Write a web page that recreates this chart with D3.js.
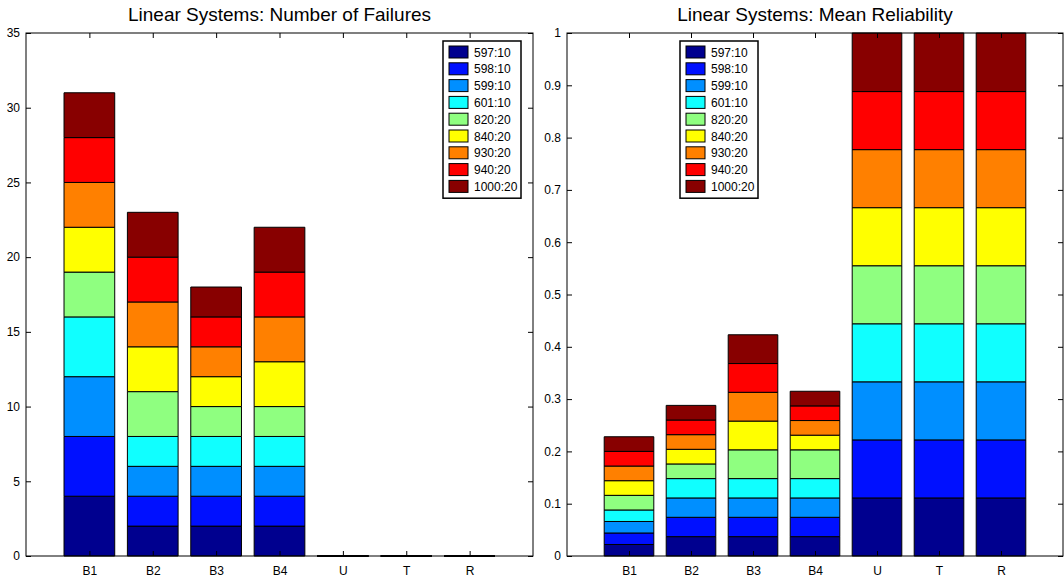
<!DOCTYPE html>
<html>
<head>
<meta charset="utf-8">
<script src="https://cdn.jsdelivr.net/npm/d3@7"></script>
<style>
  body { margin: 0; background: #fff; }
  svg { display: block; font-family: "Liberation Sans", Arial, sans-serif; }
</style>
</head>
<body>
<svg width="1064" height="579"></svg>
<script>
// categories along x
var categories = ["B1", "B2", "B3", "B4", "U", "T", "R"];
// stacked series (legend order, bottom to top)
var seriesNames = ["597:10", "598:10", "599:10", "601:10", "820:20", "840:20", "930:20", "940:20", "1000:20"];
var seriesColors = ["#00008f", "#0010ff", "#008fff", "#10ffff", "#8fff80", "#ffff00", "#ff8000", "#ff0000", "#880000"];

// failures per series, one value per category
var failures597 = [4, 2, 2, 2, 0, 0, 0];
var failures598 = [4, 2, 2, 2, 0, 0, 0];
var failures599 = [4, 2, 2, 2, 0, 0, 0];
var failures601 = [4, 2, 2, 2, 0, 0, 0];
var failures820 = [3, 3, 2, 2, 0, 0, 0];
var failures840 = [3, 3, 2, 3, 0, 0, 0];
var failures930 = [3, 3, 2, 3, 0, 0, 0];
var failures940 = [3, 3, 2, 3, 0, 0, 0];
var failures1000 = [3, 3, 2, 3, 0, 0, 0];

// mean reliability per series
var rel597 = [0.022, 0.037, 0.037, 0.037, 0.111, 0.111, 0.111];
var rel598 = [0.022, 0.037, 0.037, 0.037, 0.111, 0.111, 0.111];
var rel599 = [0.022, 0.037, 0.037, 0.037, 0.111, 0.111, 0.111];
var rel601 = [0.022, 0.037, 0.037, 0.037, 0.111, 0.111, 0.111];
var rel820 = [0.028, 0.028, 0.055, 0.055, 0.111, 0.111, 0.111];
var rel840 = [0.028, 0.028, 0.055, 0.028, 0.111, 0.111, 0.111];
var rel930 = [0.028, 0.028, 0.055, 0.028, 0.111, 0.111, 0.111];
var rel940 = [0.028, 0.028, 0.055, 0.028, 0.111, 0.111, 0.111];
var rel1000 = [0.028, 0.028, 0.055, 0.028, 0.112, 0.112, 0.112];

var failureTicks = [0, 5, 10, 15, 20, 25, 30, 35];
var reliabilityTicks = [0, 0.1, 0.2, 0.3, 0.4, 0.5, 0.6, 0.7, 0.8, 0.9, 1];

function main() {
    var svg = d3.select("svg");

    var failures = [failures597, failures598, failures599, failures601, failures820,
                    failures840, failures930, failures940, failures1000];
    var reliability = [rel597, rel598, rel599, rel601, rel820, rel840, rel930, rel940, rel1000];

    drawPanel(svg, {
        left: 26, right: 533, top: 33, bottom: 556,
        title: "Linear Systems: Number of Failures",
        series: failures, ymax: 35, ticks: failureTicks,
        fmt: function(d) { return d; },
        legendX: 443, legendY: 41
    });

    drawPanel(svg, {
        left: 567, right: 1063, top: 33, bottom: 556,
        title: "Linear Systems: Mean Reliability",
        series: reliability, ymax: 1, ticks: reliabilityTicks,
        fmt: function(d) { return d3.format("~g")(d); },
        legendX: 680, legendY: 41
    });
}

function drawPanel(svg, o) {
    var x = d3.scaleLinear().domain([0, categories.length + 1]).range([o.left, o.right]),
        y = d3.scaleLinear().domain([0, o.ymax]).range([o.bottom, o.top]);
    var barW = x(0.8) - x(0);

    var g = svg.append("g");

    // stack the series
    var rows = categories.map(function(c, i) {
        var r = { cat: c, idx: i };
        o.series.forEach(function(s, k) { r["s" + k] = s[i]; });
        return r;
    });
    var stack = d3.stack().keys(o.series.map(function(s, k) { return "s" + k; }));
    var layers = stack(rows);

    g.selectAll(".layer")
        .data(layers)
        .enter()
        .append("g")
        .attr("class", "layer")
        .attr("fill", function(d, k) { return seriesColors[k]; })
        .selectAll("path")
        .data(function(d) { return d; })
        .enter()
        .append("path")
        .attr("stroke", "#000")
        .attr("stroke-width", 1)
        .attr("d", function(d) {
            var cx = x(d.data.idx + 1),
                x0 = cx - barW / 2, x1 = cx + barW / 2;
            return "M" + x0 + "," + y(d[0]) + "H" + x1 + "V" + y(d[1]) + "H" + x0 + "Z";
        });

    // inward ticks on all four sides
    var catTicks = categories.map(function(c, i) { return i + 1; });

    g.append("g")
        .attr("transform", "translate(" + o.left + ",0)")
        .call(d3.axisLeft(y).tickValues(o.ticks).tickFormat(o.fmt).tickSizeInner(-5).tickSizeOuter(0).tickPadding(6));
    g.append("g")
        .attr("transform", "translate(" + o.right + ",0)")
        .call(d3.axisRight(y).tickValues(o.ticks).tickFormat("").tickSizeInner(-5).tickSizeOuter(0));
    g.append("g")
        .attr("transform", "translate(0," + o.bottom + ")")
        .call(d3.axisBottom(x).tickValues(catTicks)
            .tickFormat(function(d) { return categories[d - 1]; })
            .tickSizeInner(-5).tickSizeOuter(0).tickPadding(10));
    g.append("g")
        .attr("transform", "translate(0," + o.top + ")")
        .call(d3.axisTop(x).tickValues(catTicks).tickFormat("").tickSizeInner(-5).tickSizeOuter(0));

    g.selectAll(".domain").remove();
    g.selectAll(".tick line").attr("stroke", "#000");
    g.selectAll(".tick text").attr("fill", "#000").attr("font-size", "12px")
        .attr("font-family", "'Liberation Sans', Arial, sans-serif");

    g.append("rect")
        .attr("x", o.left).attr("y", o.top)
        .attr("width", o.right - o.left).attr("height", o.bottom - o.top)
        .attr("fill", "none").attr("stroke", "#000");

    svg.append("text")
        .attr("x", (o.left + o.right) / 2)
        .attr("y", 21)
        .attr("text-anchor", "middle")
        .attr("font-size", "19px")
        .text(o.title);

    // legend
    var rowH = 16.8;
    var lg = svg.append("g").attr("transform", "translate(" + o.legendX + "," + o.legendY + ")");
    lg.append("rect")
        .attr("width", 78).attr("height", rowH * seriesNames.length + 6)
        .attr("fill", "#fff").attr("stroke", "#000").attr("stroke-width", 1.5);
    var item = lg.selectAll(".item")
        .data(seriesNames)
        .enter()
        .append("g")
        .attr("transform", function(d, i) { return "translate(6," + (4 + i * rowH) + ")"; });
    item.append("rect")
        .attr("y", 1).attr("width", 19).attr("height", 12)
        .attr("fill", function(d, i) { return seriesColors[i]; })
        .attr("stroke", "#000");
    item.append("text")
        .attr("x", 25).attr("y", 11.5)
        .attr("font-size", "12px")
        .text(function(d) { return d; });
}

main();
</script>
</body>
</html>
